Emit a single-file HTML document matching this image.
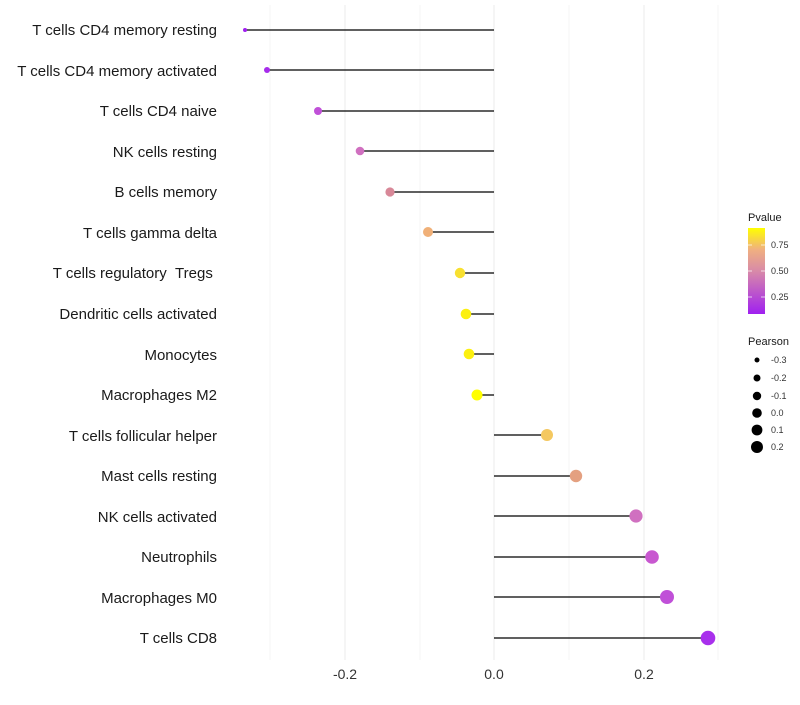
<!DOCTYPE html>
<html><head><style>body{margin:0;background:#fff}</style></head><body>
<svg width="800" height="700" xmlns="http://www.w3.org/2000/svg" font-family="Liberation Sans, sans-serif">
<defs><linearGradient id="g" x1="0" y1="1" x2="0" y2="0">
<stop offset="0" stop-color="#a020f0"/><stop offset="0.5" stop-color="#d88aa8"/><stop offset="0.75" stop-color="#f0b080"/><stop offset="1" stop-color="#ffff00"/></linearGradient></defs>
<g stroke="#ebebeb" stroke-width="1">
<line x1="270" y1="5" x2="270" y2="660" stroke="#f4f4f4"/><line x1="345" y1="5" x2="345" y2="660"/>
<line x1="420" y1="5" x2="420" y2="660" stroke="#f4f4f4"/><line x1="494" y1="5" x2="494" y2="660"/>
<line x1="569" y1="5" x2="569" y2="660" stroke="#f4f4f4"/><line x1="644" y1="5" x2="644" y2="660"/>
<line x1="718" y1="5" x2="718" y2="660" stroke="#f4f4f4"/></g>
<g font-size="15" fill="#1a1a1a" text-anchor="end">
<text x="217" y="35">T cells CD4 memory resting</text>
<text x="217" y="76">T cells CD4 memory activated</text>
<text x="217" y="116">T cells CD4 naive</text>
<text x="217" y="157">NK cells resting</text>
<text x="217" y="197">B cells memory</text>
<text x="217" y="238">T cells gamma delta</text>
<text x="217" y="278">T cells regulatory &#160;Tregs&#160;</text>
<text x="217" y="319">Dendritic cells activated</text>
<text x="217" y="360">Monocytes</text>
<text x="217" y="400">Macrophages M2</text>
<text x="217" y="441">T cells follicular helper</text>
<text x="217" y="481">Mast cells resting</text>
<text x="217" y="522">NK cells activated</text>
<text x="217" y="562">Neutrophils</text>
<text x="217" y="603">Macrophages M0</text>
<text x="217" y="643">T cells CD8</text></g>
<g font-size="14" fill="#333" text-anchor="middle">
<text x="345" y="679">-0.2</text><text x="494" y="679">0.0</text><text x="644" y="679">0.2</text></g>
<g stroke="#000" stroke-width="1.2">
<line x1="245" y1="30" x2="494" y2="30"/><line x1="267" y1="70" x2="494" y2="70"/>
<line x1="318" y1="111" x2="494" y2="111"/><line x1="360" y1="151" x2="494" y2="151"/>
<line x1="390" y1="192" x2="494" y2="192"/><line x1="428" y1="232" x2="494" y2="232"/>
<line x1="460" y1="273" x2="494" y2="273"/><line x1="466" y1="314" x2="494" y2="314"/>
<line x1="469" y1="354" x2="494" y2="354"/><line x1="477" y1="395" x2="494" y2="395"/>
<line x1="494" y1="435" x2="547" y2="435"/><line x1="494" y1="476" x2="576" y2="476"/>
<line x1="494" y1="516" x2="636" y2="516"/><line x1="494" y1="557" x2="652" y2="557"/>
<line x1="494" y1="597" x2="667" y2="597"/><line x1="494" y1="638" x2="708" y2="638"/></g>
<g>
<circle cx="245" cy="30" r="2" fill="#a020f0"/>
<circle cx="267" cy="70" r="3" fill="#a62ceb"/>
<circle cx="318" cy="111" r="4" fill="#c050d8"/>
<circle cx="360" cy="151" r="4.3" fill="#d070c0"/>
<circle cx="390" cy="192" r="4.6" fill="#d88898"/>
<circle cx="428" cy="232" r="5" fill="#f0b078"/>
<circle cx="460" cy="273" r="5.2" fill="#f8e030"/>
<circle cx="466" cy="314" r="5.3" fill="#fcf010"/>
<circle cx="469" cy="354" r="5.3" fill="#fcf010"/>
<circle cx="477" cy="395" r="5.5" fill="#ffff00"/>
<circle cx="547" cy="435" r="6" fill="#f4c860"/>
<circle cx="576" cy="476" r="6.2" fill="#e4a080"/>
<circle cx="636" cy="516" r="6.6" fill="#d070c0"/>
<circle cx="652" cy="557" r="6.8" fill="#c858d0"/>
<circle cx="667" cy="597" r="7" fill="#c050d8"/>
<circle cx="708" cy="638" r="7.3" fill="#a830ec"/></g>
<text x="748" y="221" font-size="11" fill="#1a1a1a">Pvalue</text>
<rect x="748" y="228" width="17" height="86" fill="url(#g)"/>
<g stroke="#fff" stroke-width="1" opacity="0.7"><line x1="748" y1="245" x2="752" y2="245"/><line x1="761" y1="245" x2="765" y2="245"/><line x1="748" y1="271" x2="752" y2="271"/><line x1="761" y1="271" x2="765" y2="271"/><line x1="748" y1="297" x2="752" y2="297"/><line x1="761" y1="297" x2="765" y2="297"/></g>
<g font-size="9" fill="#333"><text x="771" y="248">0.75</text><text x="771" y="274">0.50</text><text x="771" y="300">0.25</text></g>
<text x="748" y="345" font-size="11" fill="#1a1a1a">Pearson</text>
<g fill="#000"><circle cx="757" cy="360" r="2.5"/><circle cx="757" cy="378" r="3.5"/><circle cx="757" cy="396" r="4.2"/><circle cx="757" cy="413" r="4.8"/><circle cx="757" cy="430" r="5.4"/><circle cx="757" cy="447" r="6"/></g>
<g font-size="9" fill="#333"><text x="771" y="363">-0.3</text><text x="771" y="381">-0.2</text><text x="771" y="399">-0.1</text><text x="771" y="416">0.0</text><text x="771" y="433">0.1</text><text x="771" y="450">0.2</text></g>
</svg></body></html>
